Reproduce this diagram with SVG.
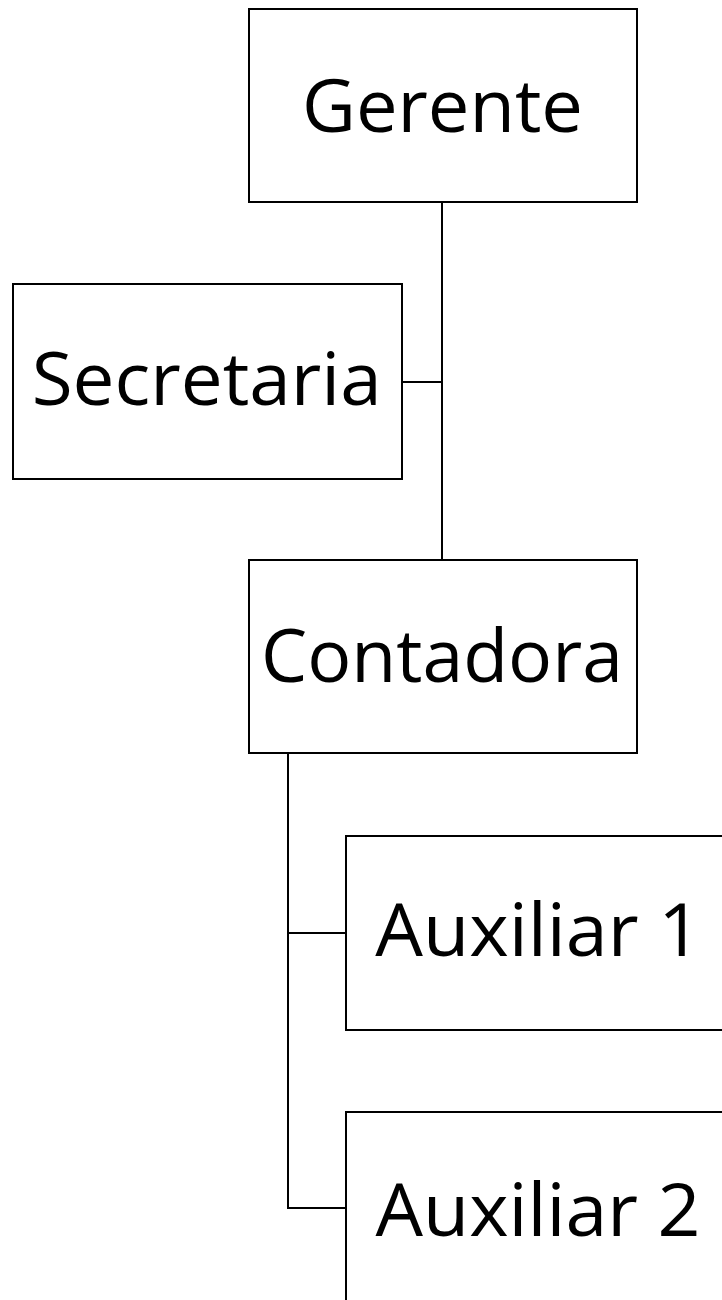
<svg xmlns="http://www.w3.org/2000/svg" width="722" height="1300" viewBox="0 0 722 1300">
<style>
.box{fill:#fff;stroke:#000;stroke-width:2}
.lbl{font-family:"Open Sans","Noto Sans","Liberation Sans",sans-serif;font-size:74px;fill:#000;text-anchor:middle}
.con{fill:none;stroke:#000;stroke-width:2}
</style>
<rect width="722" height="1300" fill="#fff"/>
<g id="connectors">
<path class="con" d="M442,202 V560"/>
<path class="con" d="M402,382 H442"/>
<path class="con" d="M288,753 V1208 H346"/>
<path class="con" d="M288,933 H346"/>
</g>
<g id="gerente">
<rect class="box" x="249" y="9" width="388" height="193"/>
<text class="lbl" x="442.5" y="131.5" textLength="281" lengthAdjust="spacingAndGlyphs">Gerente</text>
</g>
<g id="secretaria">
<rect class="box" x="13" y="284" width="389" height="195"/>
<text class="lbl" x="206.7" y="405" textLength="350" lengthAdjust="spacingAndGlyphs">Secretaria</text>
</g>
<g id="contadora">
<rect class="box" x="249" y="560" width="388" height="193"/>
<text class="lbl" x="442" y="681.5" textLength="362" lengthAdjust="spacingAndGlyphs">Contadora</text>
</g>
<g id="auxiliar1">
<rect class="box" x="346" y="836" width="388" height="194"/>
<text class="lbl" x="538.3" y="956" textLength="326" lengthAdjust="spacingAndGlyphs">Auxiliar 1</text>
</g>
<g id="auxiliar2">
<rect class="box" x="346" y="1112" width="388" height="194"/>
<text class="lbl" x="538" y="1236" textLength="325" lengthAdjust="spacingAndGlyphs">Auxiliar 2</text>
</g>
</svg>
